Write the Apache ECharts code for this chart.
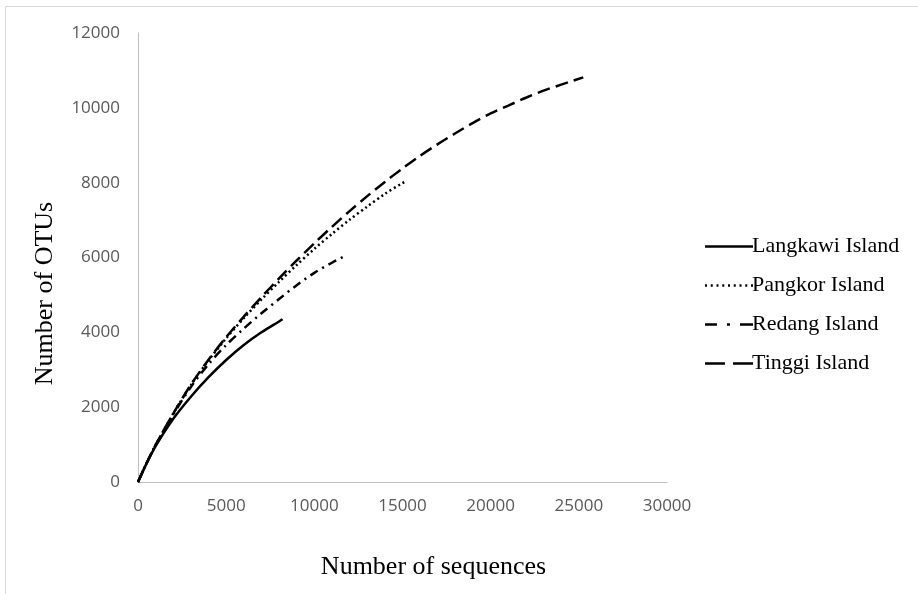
<!DOCTYPE html>
<html>
<head>
<meta charset="utf-8">
<script src="https://cdn.jsdelivr.net/npm/echarts@6/dist/echarts.min.js"></script>
<style>
html,body{margin:0;padding:0;background:#fff;}
#chart{width:918px;height:594px;}
</style>
</head>
<body>
<div id="chart"></div>
<script>
// Data
const seriesNames = ['Langkawi Island', 'Pangkor Island', 'Redang Island', 'Tinggi Island'];

const langkawiX = [0, 500, 1000, 2000, 3000, 4000, 5000, 6000, 7000, 8000, 8200];
const langkawiY = [0, 510, 960, 1690, 2280, 2800, 3260, 3660, 4000, 4290, 4350];

const pangkorX = [0, 500, 1000, 2000, 3000, 4000, 5000, 6000, 7000, 8000, 9000, 10000, 11000, 12000, 13000, 14000, 15000, 15250];
const pangkorY = [0, 515, 990, 1830, 2590, 3250, 3840, 4380, 4880, 5350, 5800, 6230, 6630, 7010, 7360, 7700, 7990, 8040];

const redangX = [0, 500, 1000, 2000, 3000, 4000, 5000, 6000, 7000, 8000, 9000, 10000, 11000, 11650];
const redangY = [0, 515, 985, 1800, 2540, 3150, 3660, 4100, 4510, 4890, 5260, 5590, 5860, 6020];

const tinggiX = [0, 500, 1000, 2000, 3000, 4000, 5000, 6000, 7000, 8000, 9000, 10000, 11000, 12000, 13000, 14000, 15000, 16000, 17000, 18000, 19000, 20000, 21000, 22000, 23000, 24000, 25250];
const tinggiY = [0, 515, 990, 1830, 2600, 3270, 3870, 4420, 4940, 5440, 5920, 6380, 6820, 7240, 7640, 8020, 8380, 8720, 9030, 9320, 9600, 9850, 10060, 10270, 10460, 10620, 10815];

const xTicks = [0, 5000, 10000, 15000, 20000, 25000, 30000];
const yTicks = [0, 2000, 4000, 6000, 8000, 10000, 12000];

function pairs(xs, ys) { return xs.map((x, i) => [x, ys[i]]); }

const serif = '"Liberation Serif", "DejaVu Serif", serif';
const sans = '"Open Sans", "Liberation Sans", sans-serif';

const dashStyles = ['solid', [2, 3], [9, 5, 2, 5], [13, 6]];
const allData = [pairs(langkawiX, langkawiY), pairs(pangkorX, pangkorY), pairs(redangX, redangY), pairs(tinggiX, tinggiY)];

// legend line-sample icons (48 x 2.5 box), drawn as filled bars
function bars(segs) {
  return 'path://' + segs.map(s => 'M' + s[0] + ' 0H' + s[1] + 'V2.5H' + s[0] + 'Z').join('');
}
const dotSegs = [];
for (let i = 0; i < 9; i++) { const a = +(i * 5.75).toFixed(2); dotSegs.push([a, +(a + 2).toFixed(2)]); }
const legendIcons = [
  bars([[0, 48]]),
  bars(dotSegs.slice(0, 8).concat([[46, 48]])),
  bars([[0, 12], [22, 25], [35, 48]]),
  bars([[0, 20], [28, 48]])
];

const chart = echarts.init(document.getElementById('chart'), null, { renderer: 'canvas' });
chart.setOption({
  backgroundColor: '#ffffff',
  animation: false,
  graphic: [{
    type: 'rect',
    shape: { x: 5.5, y: 6.5, width: 930, height: 610 },
    style: { fill: 'none', stroke: '#d9d9d9', lineWidth: 1 },
    silent: true
  }],
  grid: { left: 138, right: 251, top: 33, bottom: 112, containLabel: false },
  legend: {
    orient: 'vertical',
    left: 700,
    top: 230,
    itemWidth: 48,
    itemHeight: 2.5,
    itemGap: 16,
    itemStyle: { color: '#000', borderWidth: 0 },
    textStyle: { fontFamily: serif, fontSize: 22, color: '#000', lineHeight: 23, padding: [0, 0, 0, -6] },
    data: seriesNames.map((n, i) => ({ name: n, icon: legendIcons[i] }))
  },
  xAxis: {
    type: 'value',
    min: 0, max: 30000, interval: 5000,
    name: 'Number of sequences',
    nameLocation: 'middle',
    nameGap: 72,
    nameTextStyle: { fontFamily: serif, fontSize: 26, color: '#000', padding: [0, 0, 0, 62] },
    axisLine: { show: true, lineStyle: { color: '#bfbfbf', width: 1 } },
    axisTick: { show: false },
    splitLine: { show: false },
    axisLabel: { fontFamily: sans, fontSize: 17, color: '#595959', margin: 16,
      formatter: v => xTicks.includes(v) ? String(v) : '' }
  },
  yAxis: {
    type: 'value',
    min: 0, max: 12000, interval: 2000,
    name: 'Number of OTUs',
    nameLocation: 'middle',
    nameGap: 80,
    nameTextStyle: { fontFamily: serif, fontSize: 26, color: '#000', padding: [0, 72, 0, 0] },
    axisLine: { show: true, lineStyle: { color: '#bfbfbf', width: 1 } },
    axisTick: { show: false },
    splitLine: { show: false },
    axisLabel: { fontFamily: sans, fontSize: 17, color: '#595959', margin: 18,
      formatter: v => yTicks.includes(v) ? String(v) : '' }
  },
  series: seriesNames.map((name, i) => ({
    name: name,
    type: 'line',
    data: allData[i],
    smooth: 0.3,
    symbol: 'none',
    showSymbol: false,
    color: '#000000',
    lineStyle: { color: '#000000', width: 2.5, type: dashStyles[i] }
  }))
});
</script>
</body>
</html>
